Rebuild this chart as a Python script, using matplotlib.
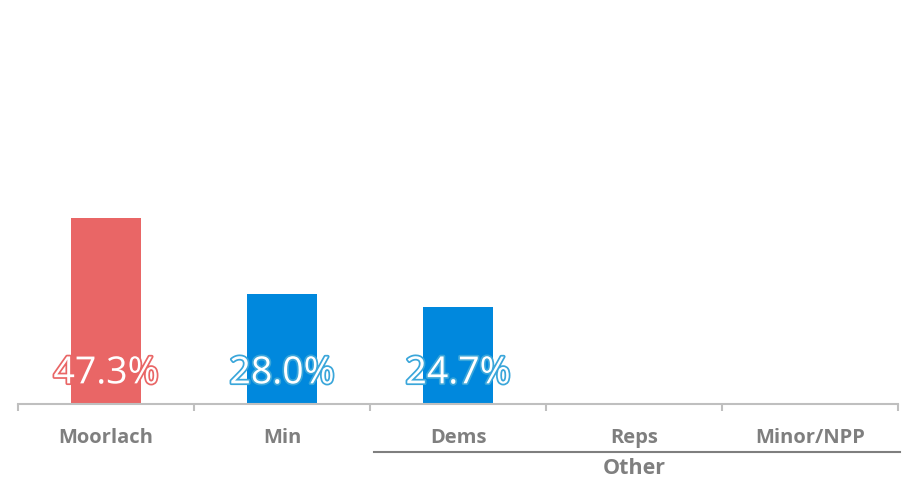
import matplotlib.pyplot as plt
import matplotlib.patheffects as pe
from matplotlib.lines import Line2D
from matplotlib.transforms import blended_transform_factory

categories = ['Moorlach', 'Min', 'Dems', 'Reps', 'Minor/NPP']
values = [47.3, 28.0, 24.7, 0, 0]
colors = ['#E96666', '#0088DD', '#0088DD', '#0088DD', '#0088DD']
label_edge = ['#E96666', '#3AA6DA', '#3AA6DA']
group_name = 'Other'

plt.rcParams['font.family'] = ['Open Sans', 'DejaVu Sans']

fig = plt.figure(figsize=(9.09, 4.78), dpi=100)
ax = fig.add_axes([18/909, 74/478, 880/909, 393/478])

x = range(len(categories))
ax.bar(x, values, width=0.4, color=colors)

# value labels (white text with coloured outline)
for i, v in enumerate(values):
    if v == 0:
        continue
    ax.text(i, 7.8, f'{v:.1f}%', ha='center', va='center', fontsize=27,
            color='white',
            path_effects=[pe.Stroke(linewidth=2.5, foreground=label_edge[i]), pe.Normal()])

ax.set_xlim(-0.5, len(categories) - 0.5)
ax.set_ylim(0, 100)
ax.set_yticks([])
for s in ['top', 'left', 'right']:
    ax.spines[s].set_visible(False)
ax.spines['bottom'].set_color('#BFBFBF')
ax.spines['bottom'].set_linewidth(1.5)

ax.set_xticks(list(x))
ax.set_xticklabels(categories, fontsize=14.5, fontweight='bold', color='#7F7F7F')
ax.tick_params(axis='x', which='major', length=0, pad=17)
ax.set_xticks([i - 0.5 for i in range(len(categories) + 1)], minor=True)
ax.tick_params(axis='x', which='minor', length=5, width=1.5, color='#BFBFBF')

# group bracket for "Other"
tr = blended_transform_factory(ax.transData, fig.transFigure)
fig.add_artist(Line2D([1.52, 4.51], [26/478, 26/478], transform=tr,
                      color='#7F7F7F', linewidth=1.5))
fig.text(3, 9/478, group_name, transform=tr, ha='center', va='center',
         fontsize=15.5, fontweight='bold', color='#7F7F7F')

fig.savefig('out.png', dpi=100)
